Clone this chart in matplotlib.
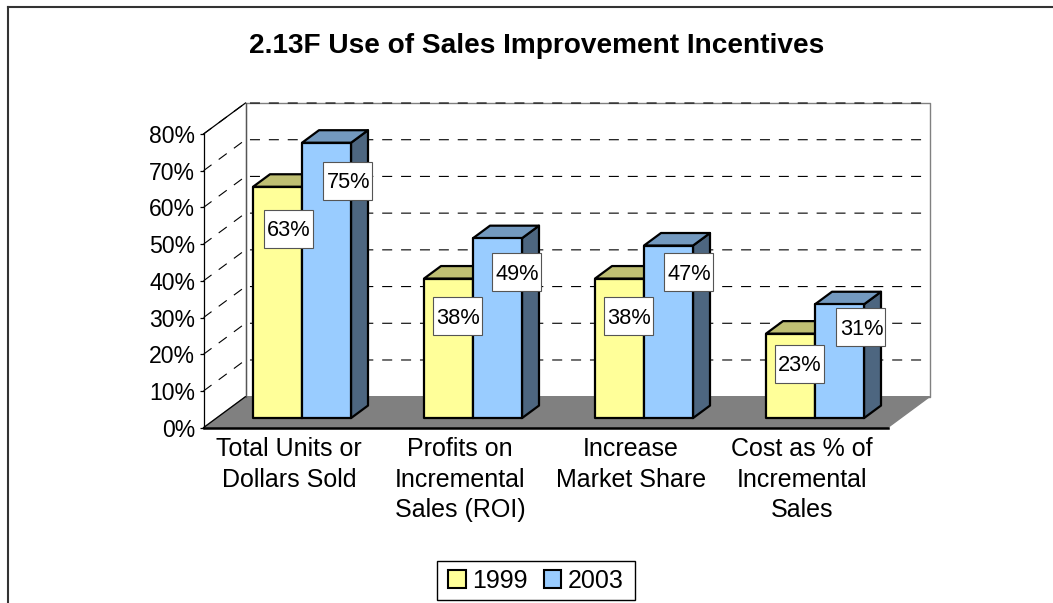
import matplotlib

matplotlib.use("Agg")
import matplotlib.pyplot as plt
from matplotlib.lines import Line2D
from matplotlib.patches import Polygon, Rectangle

categories = [
    "Total Units or\nDollars Sold",
    "Profits on\nIncremental\nSales (ROI)",
    "Increase\nMarket Share",
    "Cost as % of\nIncremental\nSales",
]
years = ["1999", "2003"]
values_1999 = [63, 38, 38, 23]
values_2003 = [75, 49, 47, 31]
y_ticks = [0, 10, 20, 30, 40, 50, 60, 70, 80]

# label box offset from the front top centre of each bar, in pixels
offsets_1999 = [(10.5, -42), (8.5, -37.5), (8.5, -37.5), (8.5, -30)]
offsets_2003 = [(21, -38), (19, -34), (19.5, -26.5), (21, -23)]

YELLOW = ("#FFFF99", "#BFBF73", "#808050")
BLUE = ("#99CCFF", "#7399BF", "#4D6680")

W, H = 1053, 603
LEFT, RIGHT, BASE, TOP = 203.5, 887.5, 427.7, 134
px_x = (RIGHT - LEFT) / 4
px_y = (BASE - TOP) / 80

# depth of the fake 3d box, in data units
depth_x = 42 / px_x
depth_y = 31 / px_y
bar_w = 49 / px_x
bar_start = 13 / 42
bar_depth = 17 / 42

fig = plt.figure(figsize=(W / 100, H / 100), dpi=100, facecolor="white")
plt.rcParams["font.family"] = ["Liberation Sans", "DejaVu Sans"]
ax = fig.add_axes(
    [LEFT / W, 1 - BASE / H, (RIGHT - LEFT) / W, (BASE - TOP) / H], facecolor="none"
)
ax.set_xlim(0, 4)
ax.set_ylim(0, 80)


def poly(points, color, edge="black", lw=1.0, z=2):
    ax.add_patch(
        Polygon(
            points,
            closed=True,
            facecolor=color,
            edgecolor=edge,
            linewidth=lw,
            joinstyle="round",
            clip_on=False,
            zorder=z,
        )
    )


# walls and floor
poly([(0, 0), (depth_x, depth_y), (depth_x, 80 + depth_y), (0, 80)], "white", "none", z=1)
poly(
    [(depth_x, depth_y), (4 + depth_x, depth_y), (4 + depth_x, 80 + depth_y), (depth_x, 80 + depth_y)],
    "white",
    "#808080",
    z=1,
)
poly([(0, 0), (4, 0), (4 + depth_x, depth_y), (depth_x, depth_y)], "#808080", "#808080", z=1)
ax.plot([0, depth_x], [80, 80 + depth_y], color="black", lw=0.9, clip_on=False, zorder=2)
ax.plot([0, depth_x], [0, depth_y], color="black", lw=0.9, clip_on=False, zorder=2)
ax.plot([depth_x, depth_x], [depth_y, 80 + depth_y], color="#555555", lw=0.9, clip_on=False, zorder=2)

# dashed gridlines on the side and back walls
for t in y_ticks[1:]:
    ax.plot(
        [0, depth_x, 4 + depth_x],
        [t, t + depth_y, t + depth_y],
        color="black",
        lw=0.8,
        dashes=(9, 8),
        clip_on=False,
        zorder=1.5,
    )

# bars, yellow first then blue
for i in range(len(categories)):
    for j, (val, cols) in enumerate(
        [(values_1999[i], YELLOW), (values_2003[i], BLUE)]
    ):
        x0 = i + 0.5 - bar_w + j * bar_w + depth_x * bar_start
        x1 = x0 + bar_w
        y0 = depth_y * bar_start
        y1 = y0 + val
        dx = depth_x * bar_depth
        dy = depth_y * bar_depth
        poly([(x1, y0), (x1 + dx, y0 + dy), (x1 + dx, y1 + dy), (x1, y1)], cols[2], lw=1.6, z=3 + j)
        poly([(x0, y1), (x1, y1), (x1 + dx, y1 + dy), (x0 + dx, y1 + dy)], cols[1], lw=1.6, z=3 + j)
        poly([(x0, y0), (x1, y0), (x1, y1), (x0, y1)], cols[0], lw=1.6, z=3 + j)

# value labels
box_h = 38 / px_y
for i in range(len(categories)):
    for j, (val, off) in enumerate(
        [(values_1999[i], offsets_1999[i]), (values_2003[i], offsets_2003[i])]
    ):
        cx = i + 0.5 - bar_w / 2 + j * bar_w + depth_x * bar_start + off[0] / px_x
        cy = depth_y * bar_start + val + off[1] / px_y
        ax.add_patch(
            Rectangle(
                (cx - bar_w / 2, cy - box_h / 2),
                bar_w,
                box_h,
                facecolor="white",
                edgecolor="#555555",
                linewidth=0.8,
                clip_on=False,
                zorder=6,
            )
        )
        ax.text(
            cx + 1 / px_x,
            cy - 2 / px_y,
            f"{val}%",
            ha="center",
            va="center",
            fontsize=15.7,
            color="black",
            zorder=7,
        )

# axes
for side in ["top", "right"]:
    ax.spines[side].set_visible(False)
ax.spines["left"].set_linewidth(0.9)
ax.spines["left"].set_zorder(2.5)
ax.spines["bottom"].set_linewidth(1.8)
ax.spines["bottom"].set_zorder(2.5)
ax.set_yticks(y_ticks)
ax.set_yticklabels([f"{t}%" for t in y_ticks], fontsize=16.6)
ax.tick_params(axis="y", length=3, width=0.9, pad=3)
ax.set_xticks([i + 0.5 for i in range(len(categories))])
ax.set_xticklabels(categories, fontsize=18, linespacing=1.33)
ax.tick_params(axis="x", length=0, pad=7)

fig.text(
    536.5 / W, 1 - 46 / H, "2.13F Use of Sales Improvement Incentives",
    ha="center", va="center", fontsize=20.2, fontweight="bold",
)

# outer border, only top and left are in frame
fig.add_artist(Line2D([7.5 / W, 1], [1 - 6.5 / H, 1 - 6.5 / H], color="#333333", lw=1.5))
fig.add_artist(Line2D([7.5 / W, 7.5 / W], [1 - 6.5 / H, 0], color="#333333", lw=1.5))

handles = [
    Rectangle((0, 0), 1, 1, facecolor=YELLOW[0], edgecolor="black", linewidth=1.5),
    Rectangle((0, 0), 1, 1, facecolor=BLUE[0], edgecolor="black", linewidth=1.5),
]
leg = fig.legend(
    handles,
    years,
    loc="center",
    bbox_to_anchor=(536 / W, 1 - 580.5 / H),
    ncol=2,
    fontsize=18,
    frameon=True,
    fancybox=False,
    framealpha=1,
    edgecolor="black",
    handlelength=0.7,
    handleheight=0.7,
    handletextpad=0.25,
    columnspacing=0.65,
    borderpad=0.3,
    borderaxespad=0,
)
# wider frame without making it taller
leg.get_frame().set_boxstyle("square", pad=0.16)
leg.get_frame().set_mutation_aspect(0.01)

fig.savefig("out.png", dpi=100)
